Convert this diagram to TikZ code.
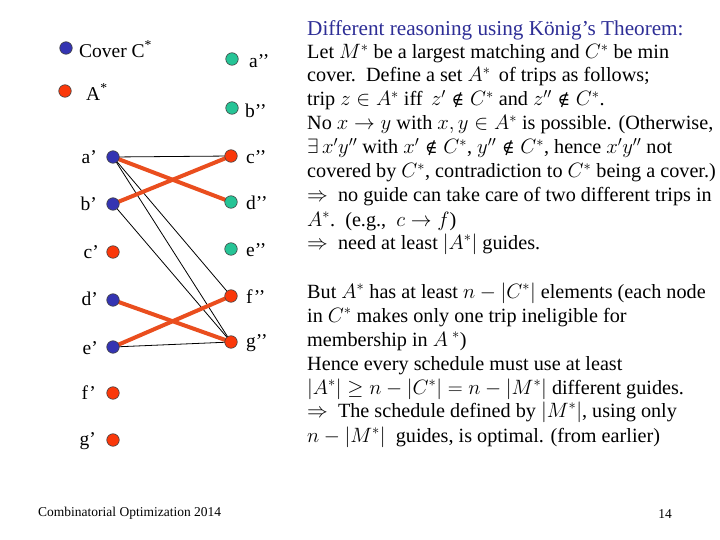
\documentclass[tikz,border=0pt]{standalone}
\usepackage{fontspec}
\setmainfont{Liberation Serif}
\newfontfamily\symfont{DejaVu Serif}
\newcommand{\nin}{\mathrel{\mbox{\symfont\fontsize{17}{20}\selectfont ∉}}}
\pgfdeclarelayer{bg}
\pgfsetlayers{bg,main}
\definecolor{dotblue}{RGB}{52,52,178}
\definecolor{dotred}{RGB}{250,56,10}
\definecolor{dotgreen}{RGB}{38,196,150}
\definecolor{edgered}{RGB}{234,78,30}
\definecolor{titleblue}{RGB}{46,46,150}
\tikzset{
  dotnode/.style={circle, draw=black!75, line width=0.6pt, minimum size=12.5pt, inner sep=0pt},
  bdot/.style={dotnode, fill=dotblue},
  rdot/.style={dotnode, fill=dotred},
  gdot/.style={dotnode, fill=dotgreen},
  thinedge/.style={line width=0.8pt, black},
  thickedge/.style={line width=4pt, edgered},
  lbl/.style={inner sep=0pt, font=\fontsize{19.5}{22}\selectfont},
  txt/.style={anchor=base west, inner sep=0pt, text height=14pt, text depth=4pt, font=\fontsize{20.2}{23}\selectfont},
  foot/.style={inner sep=0pt, font=\fontsize{13.5}{16}\selectfont}
}
\begin{document}
\begin{tikzpicture}[x=1pt,y=-1pt]
\useasboundingbox (0,0) rectangle (720,540);
\begin{pgfonlayer}{bg}
\fill[white] (0,0) rectangle (720,540);
\end{pgfonlayer}
% legend
\node[bdot] (legC) at (66,48) {};
\node[lbl, anchor=west] (legCt) at (79,49) {Cover C\textsuperscript{*}};
\node[rdot] (legA) at (65,91) {};
\node[lbl, anchor=west] (legAt) at (86,92) {A\textsuperscript{*}};
% left column
\node[bdot] (a1) at (113,157) {};
\node[bdot] (b1) at (113,204) {};
\node[rdot] (c1) at (113,252) {};
\node[bdot] (d1) at (113,300) {};
\node[bdot] (e1) at (113,347) {};
\node[rdot] (f1) at (113,393) {};
\node[rdot] (g1) at (113,440) {};
\node[lbl, anchor=east] (a1t) at (97,157) {a’};
\node[lbl, anchor=east] (b1t) at (97,204) {b’};
\node[lbl, anchor=east] (c1t) at (99,252) {c’};
\node[lbl, anchor=east] (d1t) at (98,299) {d’};
\node[lbl, anchor=east] (e1t) at (98,348) {e’};
\node[lbl, anchor=east] (f1t) at (96,393) {f’};
\node[lbl, anchor=east] (g1t) at (96,441) {g’};
% right column
\node[gdot] (a2) at (232,59) {};
\node[gdot] (b2) at (232,108) {};
\node[rdot] (c2) at (231,156) {};
\node[gdot] (d2) at (231,202) {};
\node[gdot] (e2) at (231,249) {};
\node[rdot] (f2) at (231,296) {};
\node[rdot] (g2) at (231,342) {};
\node[lbl, anchor=west] (a2t) at (249,61) {a’’};
\node[lbl, anchor=west] (b2t) at (245,111) {b’’};
\node[lbl, anchor=west] (c2t) at (246,157) {c’’};
\node[lbl, anchor=west] (d2t) at (246,203) {d’’};
\node[lbl, anchor=west] (e2t) at (246,250) {e’’};
\node[lbl, anchor=west] (f2t) at (246,297) {f’’};
\node[lbl, anchor=west] (g2t) at (246,343) {g’’};
% edges
\begin{pgfonlayer}{bg}
\draw[thinedge] (a1.center) -- (c2.center);
\draw[thinedge] (a1.center) -- (f2.center);
\draw[thinedge] (a1.center) -- (g2.center);
\draw[thinedge] (b1.center) -- (g2.center);
\draw[thinedge] (e1.center) -- (g2.center);
\draw[thickedge] (a1.center) -- (d2.center);
\draw[thickedge] (b1.center) -- (c2.center);
\draw[thickedge] (d1.center) -- (g2.center);
\draw[thickedge] (e1.center) -- (f2.center);
\end{pgfonlayer}
% text block
\node[txt, text=titleblue, font=\fontsize{21.2}{24}\selectfont] (t0) at (307,36) {Different reasoning using König’s Theorem:};
\node[txt] (t1) at (307,59) {Let $M^*$ be a largest matching and $C^*$ be min};
\node[txt] (t2) at (307,82) {cover.\ \ Define a set $A^*$\, of trips as follows;};
\node[txt] (t3) at (307,106) {trip $z\in A^*$ iff\, $z'\nin C^*$ and $z''\nin C^*$.};
\node[txt] (t4) at (307,130) {No $x\to y$ with $x,y\in A^*$ is possible. (Otherwise,};
\node[txt] (t5) at (307,154) {$\exists\, x'y''$ with $x'\nin C^*$, $y''\nin C^*$, hence $x'y''$ not};
\node[txt] (t6) at (307,178) {covered by $C^*$, contradiction to $C^*$ being a cover.)};
\node[txt] (t7) at (307,202) {$\Rightarrow$\ \ no guide can take care of two different trips in};
\node[txt] (t8) at (307,226) {$A^*$.\ \ (e.g.,\ \ $c\to f$)};
\node[txt] (t9) at (307,249) {$\Rightarrow$\ \ need at least $|A^*|$ guides.};
\node[txt] (u0) at (307,298) {But $A^*$ has at least $n-|C^*|$ elements (each node};
\node[txt] (u1) at (307,322) {in $C^*$ makes only one trip ineligible for};
\node[txt] (u2) at (307,346) {membership in $A^{\;*}$)};
\node[txt] (u3) at (307,370) {Hence every schedule must use at least};
\node[txt] (u4) at (307,394) {$|A^*|\ge n-|C^*|=n-|M^*|$ different guides.};
\node[txt] (u5) at (307,417) {$\Rightarrow$\ \ The schedule defined by $|M^*|$, using only};
\node[txt] (u6) at (307,442) {$n-|M^*|$\ \ guides, is optimal. (from earlier)};
% footer
\node[foot, anchor=west] (footer) at (38,513) {Combinatorial Optimization 2014};
\node[foot] (page) at (665,514) {14};
\end{tikzpicture}
\end{document}
